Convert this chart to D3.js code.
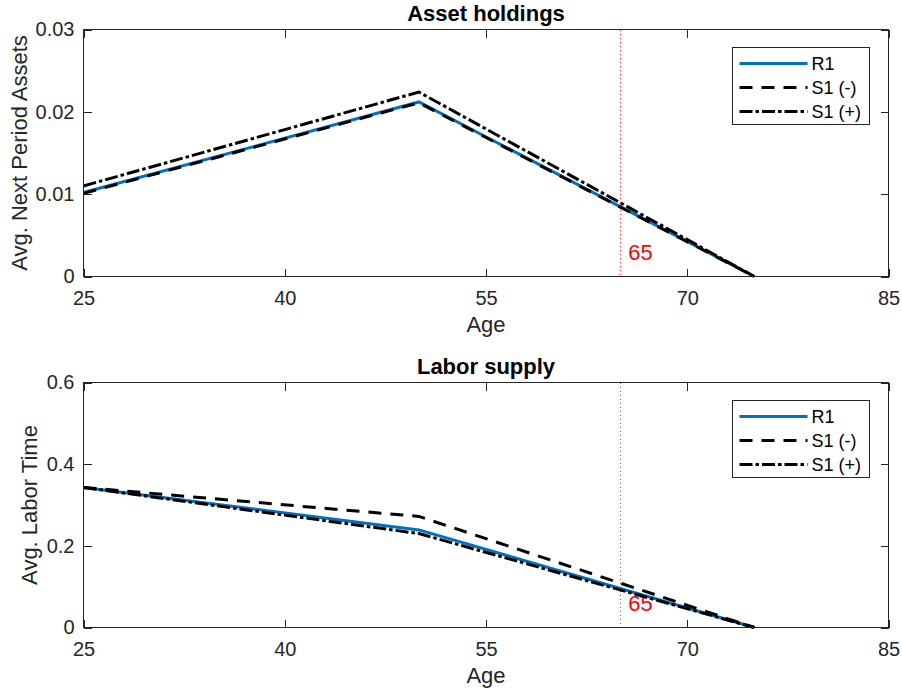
<!DOCTYPE html>
<html>
<head>
<meta charset="utf-8">
<script src="https://cdn.jsdelivr.net/npm/d3@7"></script>
<style>
  html, body { margin: 0; padding: 0; background: #fff; }
  svg { display: block; font-family: "Liberation Sans", Arial, Helvetica, sans-serif; }
</style>
</head>
<body>
<svg id="chart" width="902" height="692"></svg>
<script>
// Age grid of the simulated life cycle
const ages = [25, 50, 75];
const xTicks = [25, 40, 55, 70, 85];
const retirementAge = 65;

// Average next-period assets by age
const assetsR1 = [0.0102, 0.0212, 0];
const assetsS1Minus = [0.0101, 0.0211, 0];
const assetsS1Plus = [0.0110, 0.0224, 0];
const assetTicks = [0, 0.01, 0.02, 0.03];

// Average labour time by age
const laborR1 = [0.343, 0.239, 0];
const laborS1Minus = [0.343, 0.272, 0];
const laborS1Plus = [0.343, 0.230, 0];
const laborTicks = [0, 0.2, 0.4, 0.6];

const seriesNames = ["R1", "S1 (-)", "S1 (+)"];

const styles = [
  { color: "#0072BD", dash: null },
  { color: "#000000", dash: "13,9" },
  { color: "#000000", dash: "13,3,3.5,3" }
];

const svg = d3.select("#chart");
const axisColor = "#262626";
const left = 83.5, right = 888.5;

const x = d3.scaleLinear().domain([25, 85]).range([left, right]);

const panels = [
  {
    top: 29.5, bottom: 276.5, title: "Asset holdings", ylabel: "Avg. Next Period Assets",
    domain: [0, 0.03], ticks: assetTicks, fmt: d => d === 0 ? "0" : d3.format(".2f")(d),
    series: [assetsR1, assetsS1Minus, assetsS1Plus], labelY: 0.003, ylabelX: 27
  },
  {
    top: 382.5, bottom: 627.5, title: "Labor supply", ylabel: "Avg. Labor Time",
    domain: [0, 0.6], ticks: laborTicks, fmt: d => d === 0 ? "0" : d3.format(".1f")(d),
    series: [laborR1, laborS1Minus, laborS1Plus], labelY: 0.06, ylabelX: 37
  }
];

panels.forEach(p => {
  const y = d3.scaleLinear().domain(p.domain).range([p.bottom, p.top]);
  const g = svg.append("g");

  // Axes with inward ticks on all four sides
  const bottomAxis = g.append("g")
    .attr("transform", `translate(0,${p.bottom})`)
    .call(d3.axisBottom(x).tickValues(xTicks).tickSize(-8).tickSizeOuter(0).tickPadding(14));
  const topAxis = g.append("g")
    .attr("transform", `translate(0,${p.top})`)
    .call(d3.axisTop(x).tickValues(xTicks).tickSize(-8).tickSizeOuter(0).tickFormat(""));
  const leftAxis = g.append("g")
    .attr("transform", `translate(${left},0)`)
    .call(d3.axisLeft(y).tickValues(p.ticks).tickSize(-8).tickSizeOuter(0).tickPadding(9).tickFormat(p.fmt));
  const rightAxis = g.append("g")
    .attr("transform", `translate(${right},0)`)
    .call(d3.axisRight(y).tickValues(p.ticks).tickSize(-8).tickSizeOuter(0).tickFormat(""));

  [bottomAxis, topAxis, leftAxis, rightAxis].forEach(a => {
    a.select(".domain").remove();
    a.selectAll("line").attr("stroke", axisColor).attr("stroke-width", 1)
      .attr("shape-rendering", "crispEdges");
    a.selectAll("text").attr("fill", axisColor).style("font-size", "20px")
      .style("font-family", "'Liberation Sans', Arial, sans-serif");
  });

  // Retirement marker
  const rx = Math.round(x(retirementAge)) + 0.5;
  g.append("line")
    .attr("x1", rx).attr("x2", rx)
    .attr("y1", p.top).attr("y2", p.bottom)
    .attr("stroke", "#FF3030").attr("stroke-width", 1)
    .attr("shape-rendering", "crispEdges")
    .attr("stroke-dasharray", "1,3");
  g.append("text")
    .attr("x", x(retirementAge + 0.6)).attr("y", y(p.labelY))
    .attr("dy", "0.35em")
    .attr("fill", "#FF0000").style("font-size", "22px")
    .text(retirementAge);

  // Series lines
  const line = d3.line().x((d, i) => x(ages[i])).y(d => y(d));
  p.series.forEach((vals, k) => {
    g.append("path")
      .datum(vals)
      .attr("d", line)
      .attr("fill", "none")
      .attr("stroke", styles[k].color)
      .attr("stroke-width", 3)
      .attr("stroke-dasharray", styles[k].dash)
      .attr("stroke-linejoin", "miter");
  });

  // Frame
  g.append("rect")
    .attr("x", left).attr("y", p.top)
    .attr("width", right - left).attr("height", p.bottom - p.top)
    .attr("fill", "none").attr("stroke", axisColor).attr("stroke-width", 1)
    .attr("shape-rendering", "crispEdges");

  // Title and axis labels
  g.append("text")
    .attr("x", (left + right) / 2).attr("y", p.top - 9)
    .attr("text-anchor", "middle").attr("font-weight", "bold")
    .style("font-size", "22px").attr("fill", "#000")
    .text(p.title);
  g.append("text")
    .attr("x", (left + right) / 2).attr("y", p.bottom + 55)
    .attr("text-anchor", "middle")
    .style("font-size", "22px").attr("fill", axisColor)
    .text("Age");
  g.append("text")
    .attr("transform", `translate(${p.ylabelX},${(p.top + p.bottom) / 2}) rotate(-90)`)
    .attr("text-anchor", "middle")
    .style("font-size", "22px").attr("fill", axisColor)
    .text(p.ylabel);

  // Legend
  const lg = g.append("g").attr("transform", `translate(732.5,${p.top + 18})`);
  lg.append("rect")
    .attr("width", 137).attr("height", 77)
    .attr("fill", "#fff").attr("stroke", axisColor).attr("stroke-width", 1)
    .attr("shape-rendering", "crispEdges");
  seriesNames.forEach((name, k) => {
    const ry = 16 + k * 24;
    lg.append("line")
      .attr("x1", 7).attr("x2", 75).attr("y1", ry).attr("y2", ry)
      .attr("stroke", styles[k].color).attr("stroke-width", 2.8)
      .attr("stroke-dasharray", styles[k].dash);
    lg.append("text")
      .attr("x", 79).attr("y", ry).attr("dy", "0.35em")
      .style("font-size", "18px").attr("fill", "#000")
      .text(name);
  });
});
</script>
</body>
</html>
